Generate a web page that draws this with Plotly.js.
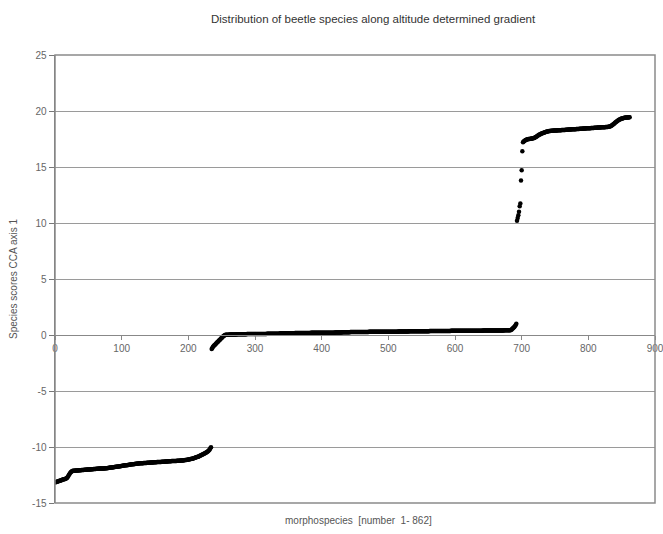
<!DOCTYPE html>
<html>
<head>
<meta charset="utf-8">
<script src="https://cdn.plot.ly/plotly-3.0.1.min.js"></script>
<style>html,body{margin:0;padding:0;background:#fff;}#chart{width:663px;height:534px;}</style>
</head>
<body>
<div id="chart"></div>
<script>
// Species scores on CCA axis 1, sorted (species 1..862)
const lowGroupScores = [
-13.15,-13.12,-13.10,-13.08,-13.06,-13.04,-13.02,-13.00,-12.98,-12.95,
-12.93,-12.91,-12.89,-12.87,-12.85,-12.83,-12.80,-12.76,
-12.68,-12.58,-12.48,-12.38,-12.30,-12.23,-12.18,-12.14,
-12.12,-12.12,-12.11,-12.11,-12.10,-12.10,-12.10,-12.09,-12.09,-12.08,
-12.08,-12.07,-12.07,-12.06,-12.06,-12.05,-12.05,-12.04,-12.04,-12.03,
-12.03,-12.02,-12.02,-12.01,-12.01,-12.00,-12.00,-11.99,-11.99,-11.98,
-11.98,-11.97,-11.97,-11.96,-11.96,-11.95,-11.95,-11.94,-11.94,-11.93,
-11.93,-11.93,-11.92,-11.92,-11.92,-11.91,-11.91,-11.91,-11.90,-11.90,
-11.90,
-11.89,-11.88,-11.87,-11.86,-11.85,-11.84,-11.84,-11.83,-11.82,-11.81,
-11.80,-11.79,-11.78,-11.77,-11.76,-11.76,-11.75,-11.74,-11.73,-11.72,
-11.71,-11.70,-11.69,-11.68,-11.67,-11.66,-11.65,-11.64,-11.64,-11.63,
-11.62,-11.61,-11.60,-11.59,-11.58,-11.57,-11.56,-11.55,-11.55,-11.54,
-11.53,-11.52,-11.51,-11.50,-11.50,-11.49,-11.48,-11.47,-11.47,-11.46,
-11.45,-11.45,-11.44,-11.44,-11.44,-11.43,-11.43,-11.42,-11.42,-11.42,
-11.41,-11.41,-11.40,-11.40,-11.40,-11.39,-11.39,-11.38,-11.38,-11.38,
-11.37,-11.37,-11.36,-11.36,-11.36,-11.35,-11.35,-11.34,-11.34,-11.34,
-11.33,-11.33,-11.32,-11.32,-11.32,-11.31,-11.31,-11.30,-11.30,-11.30,
-11.29,-11.29,-11.28,-11.28,-11.28,-11.27,-11.27,-11.26,-11.26,-11.26,
-11.25,-11.25,-11.24,-11.24,-11.24,-11.23,-11.23,-11.22,-11.22,-11.22,
-11.21,-11.21,-11.21,-11.20,-11.20,
-11.19,-11.18,-11.17,-11.16,-11.15,-11.14,-11.13,-11.12,-11.11,-11.10,
-11.08,-11.07,-11.05,-11.04,-11.02,-11.00,-10.98,-10.96,-10.94,-10.92,
-10.90,-10.88,-10.86,-10.83,-10.80,
-10.77,-10.74,-10.71,-10.68,-10.65,-10.62,-10.59,-10.56,-10.52,-10.48,-10.44,-10.40,-10.36,
-10.30,-10.22,-10.12,-10.02
];
const midGroupScores = [
-1.25,-1.15,-1.05,-0.98,-0.92,-0.86,-0.80,-0.74,-0.68,-0.62,-0.56,-0.50,-0.44,-0.38,-0.32,-0.26,-0.20,-0.14,-0.09,-0.05,-0.01,
0.02,0.02,0.03,0.03,0.03,0.03,0.04,0.04,0.04,0.04,
0.04,0.05,0.05,0.05,0.05,0.05,0.05,0.06,0.06,0.06,
0.06,0.06,0.06,0.06,0.07,0.07,0.07,0.07,0.07,0.07,
0.07,0.07,0.08,0.08,0.08,0.08,0.08,0.08,0.08,0.08,
0.08,0.09,0.09,0.09,0.09,0.09,0.09,0.09,0.09,0.09,
0.09,0.10,0.10,0.10,0.10,0.10,0.10,0.10,0.10,0.10,
0.10,0.10,0.11,0.11,0.11,0.11,0.11,0.11,0.11,0.11,
0.11,0.11,0.11,0.12,0.12,0.12,0.12,0.12,0.12,0.12,
0.12,0.12,
0.15,0.15,0.15,0.15,0.15,0.15,0.15,0.15,0.15,0.15,
0.16,0.16,0.16,0.16,0.16,0.16,0.16,0.16,0.16,0.16,
0.16,0.16,0.17,0.17,0.17,0.17,0.17,0.17,0.17,0.17,
0.17,0.17,0.17,0.17,0.18,0.18,0.18,0.18,0.18,0.18,
0.18,0.18,0.18,0.18,0.18,0.18,0.19,0.19,0.19,0.19,
0.19,0.19,0.19,0.19,0.19,0.19,0.19,0.19,0.20,0.20,
0.20,0.20,0.20,0.20,0.20,0.20,0.20,0.20,0.20,0.20,
0.21,0.21,0.21,0.21,0.21,0.21,0.21,0.21,0.21,0.21,
0.21,0.21,0.22,0.22,0.22,0.22,0.22,0.22,0.22,0.22,
0.22,0.22,0.22,
0.25,0.25,0.25,0.25,0.25,0.25,0.25,0.25,0.25,0.25,0.25,0.25,
0.26,0.26,0.26,0.26,0.26,0.26,0.26,0.26,0.26,0.26,0.26,0.26,0.26,0.26,
0.27,0.27,0.27,0.27,0.27,0.27,0.27,0.27,0.27,0.27,0.27,0.27,0.27,0.27,
0.28,0.28,0.28,0.28,0.28,0.28,0.28,0.28,0.28,0.28,0.28,0.28,0.28,0.28,0.28,
0.29,0.29,0.29,0.29,0.29,0.29,0.29,0.29,0.29,0.29,0.29,0.29,0.29,0.29,0.29,
0.30,0.30,0.30,0.30,0.30,0.30,0.30,0.30,0.30,0.30,0.30,0.30,0.30,0.30,
0.31,0.31,0.31,0.31,0.31,0.31,0.31,0.31,0.31,0.31,
0.32,0.32,0.32,0.32,0.32,0.32,
0.33,0.33,0.33,0.33,0.33,0.33,0.33,0.33,0.33,0.33,0.33,0.33,0.33,0.33,0.33,
0.34,0.34,0.34,0.34,0.34,0.34,0.34,0.34,0.34,0.34,0.34,0.34,0.34,0.34,0.34,0.34,
0.35,0.35,0.35,0.35,0.35,0.35,0.35,0.35,0.35,0.35,0.35,0.35,0.35,0.35,0.35,0.35,
0.36,0.36,0.36,0.36,0.36,0.36,0.36,0.36,0.36,0.36,0.36,0.36,0.36,0.36,0.36,0.36,
0.37,0.37,0.37,0.37,0.37,0.37,0.37,0.37,0.37,0.37,0.37,0.37,0.37,0.37,0.37,0.37,
0.38,0.38,0.38,0.38,0.38,0.38,0.38,0.38,0.38,0.38,0.38,0.38,0.38,0.38,0.38,0.38,
0.39,0.39,0.39,0.39,0.39,0.39,0.39,0.39,0.39,0.39,0.39,0.39,0.39,0.39,0.39,0.39,
0.40,0.40,0.40,0.40,0.40,0.40,0.40,0.40,0.40,0.40,0.40,0.40,0.40,0.40,0.40,0.40,
0.41,0.41,0.41,0.41,0.41,0.41,0.41,0.41,0.41,0.41,0.41,0.41,0.41,0.41,0.41,0.41,
0.42,0.42,0.42,0.42,0.42,0.42,0.42,0.42,0.42,0.42,
0.45,0.50,0.55,0.60,0.66,0.72,0.80,0.90,1.00
];
const highGroupScores = [
10.20,10.45,10.70,11.00,11.50,11.75,13.80,14.70,16.40,
17.20,17.28,17.33,17.37,17.40,17.43,17.45,17.47,17.49,17.50,
17.51,17.52,17.53,17.54,17.55,17.56,17.58,17.60,17.63,
17.67,17.71,17.75,17.79,17.83,17.87,17.90,17.93,17.96,17.99,
18.02,18.04,18.06,18.08,18.10,18.12,18.14,18.16,18.18,18.20,
18.21,18.22,18.22,18.23,18.23,18.24,18.24,18.25,18.25,18.26,
18.26,18.27,18.27,18.28,18.28,18.28,18.29,18.29,18.29,18.30,
18.30,18.30,18.31,18.31,18.31,18.32,18.32,
18.33,18.33,18.34,18.34,18.35,18.35,18.35,18.36,18.36,18.37,
18.37,18.38,18.38,18.38,18.39,18.39,18.40,18.40,18.40,18.41,
18.41,18.42,18.42,18.42,18.43,18.43,18.44,18.44,18.44,18.45,
18.45,18.46,18.46,18.46,18.47,18.47,18.48,18.48,18.48,18.49,
18.49,18.50,18.50,18.50,18.51,18.51,18.52,18.52,18.52,18.53,
18.53,18.54,18.54,18.54,18.55,18.55,18.56,18.56,18.57,18.57,
18.58,18.58,18.59,18.60,18.61,
18.63,18.66,18.70,18.74,18.79,18.84,18.89,18.94,18.99,19.04,
19.09,19.13,19.17,19.21,19.24,19.27,19.30,19.32,
19.34,19.36,19.38,19.39,19.40,19.41,19.42,19.42,19.43,19.43,19.44,19.44
];
const xTickValues = [0,100,200,300,400,500,600,700,800,900];
const yTickValues = [-15,-10,-5,0,5,10,15,20,25];
const chartTitle = 'Distribution of beetle species along altitude determined gradient';
const xTitle = 'morphospecies&nbsp;&nbsp;[number&nbsp;&nbsp;1- 862]';
const yTitle = 'Species scores CCA axis 1';

const scores = lowGroupScores.concat(midGroupScores, highGroupScores);
const speciesNumber = scores.map((_, i) => i + 1);

const font = 'Liberation Sans, Arial, sans-serif';
const trace = {
  x: speciesNumber, y: scores, type: 'scatter', mode: 'markers',
  marker: {color: '#000', size: 4.5, symbol: 'circle'},
  hoverinfo: 'x+y', showlegend: false
};
const layout = {
  width: 663, height: 534,
  margin: {l: 55, r: 8, t: 55, b: 31},
  paper_bgcolor: '#fff', plot_bgcolor: '#fff',
  font: {family: font, size: 10, color: '#555'},
  xaxis: {
    range: [0, 900], tickvals: xTickValues, ticktext: xTickValues.map(String),
    anchor: 'free', position: 0.375,
    showgrid: false, zeroline: false, showline: true, linecolor: '#888', linewidth: 1,
    ticks: 'outside', ticklen: 4, tickcolor: '#888',
    ticklabeloverflow: 'allow',
    tickfont: {family: font, size: 10, color: '#666'}
  },
  yaxis: {
    range: [-15, 25], tickvals: yTickValues, ticktext: yTickValues.map(String),
    showgrid: true, gridcolor: '#9a9a9a', gridwidth: 1,
    zeroline: false, showline: true, linecolor: '#777', linewidth: 1.5,
    ticks: 'outside', ticklen: 5, tickcolor: '#777',
    ticklabeloverflow: 'allow',
    tickfont: {family: font, size: 10, color: '#666'},
    title: {text: yTitle, font: {family: font, size: 10, color: '#555'}, standoff: 12}
  },
  shapes: [
    {type: 'rect', xref: 'paper', yref: 'paper', x0: 0, x1: 1, y0: 0, y1: 1,
     line: {color: '#8a8a8a', width: 1.5}, fillcolor: 'rgba(0,0,0,0)'}
  ],
  annotations: [
    {text: chartTitle, xref: 'paper', yref: 'paper', x: 0.53, y: 1, yshift: 28,
     xanchor: 'center', yanchor: 'bottom', showarrow: false,
     font: {family: font, size: 11.5, color: '#333'}},
    {text: xTitle, xref: 'paper', yref: 'paper', x: 0.505, y: 0, yshift: -10,
     xanchor: 'center', yanchor: 'top', showarrow: false,
     font: {family: font, size: 10, color: '#555'}}
  ]
};
Plotly.newPlot('chart', [trace], layout, {displayModeBar: false, staticPlot: true});
</script>
</body>
</html>
